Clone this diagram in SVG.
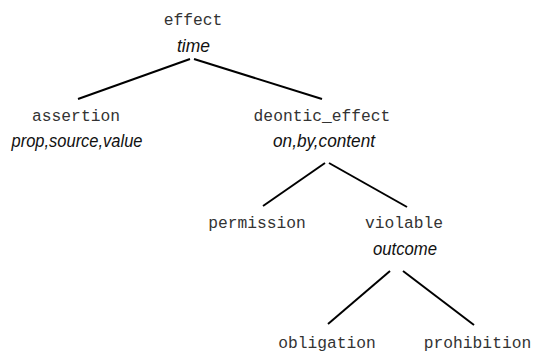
<svg xmlns="http://www.w3.org/2000/svg" width="536" height="356" viewBox="0 0 536 356">
<style>
.n{font-family:"Liberation Mono","DejaVu Sans Mono",monospace;font-size:16.3px;fill:#333;text-anchor:middle}
.a{font-family:"Liberation Sans",Arial,sans-serif;font-style:italic;font-size:19px;fill:#111;text-anchor:middle}
.e{stroke:#000;stroke-width:2;fill:none}
</style>
<rect width="536" height="356" fill="#fff"/>
<g id="connectors">
<line class="e" x1="190" y1="59" x2="78" y2="99"/>
<line class="e" x1="194" y1="59" x2="322" y2="99"/>
<line class="e" x1="325" y1="163" x2="263" y2="206"/>
<line class="e" x1="329" y1="163" x2="407" y2="207"/>
<line class="e" x1="390" y1="271" x2="328" y2="324"/>
<line class="e" x1="403" y1="271" x2="474" y2="325"/>
</g>
<g id="effect"><text class="n" x="193" y="25">effect</text><text class="a" x="193.5" y="52" textLength="33" lengthAdjust="spacingAndGlyphs">time</text></g>
<g id="assertion"><text class="n" x="76" y="121">assertion</text><text class="a" x="77" y="146.5" textLength="131" lengthAdjust="spacingAndGlyphs">prop,source,value</text></g>
<g id="deontic_effect"><text class="n" x="322" y="121">deontic_effect</text><text class="a" x="324" y="146.5" textLength="102" lengthAdjust="spacingAndGlyphs">on,by,content</text></g>
<g id="permission"><text class="n" x="257" y="228">permission</text></g>
<g id="violable"><text class="n" x="404" y="228">violable</text><text class="a" x="405" y="255" textLength="64" lengthAdjust="spacingAndGlyphs">outcome</text></g>
<g id="obligation"><text class="n" x="327" y="348">obligation</text></g>
<g id="prohibition"><text class="n" x="477.5" y="348">prohibition</text></g>
</svg>
